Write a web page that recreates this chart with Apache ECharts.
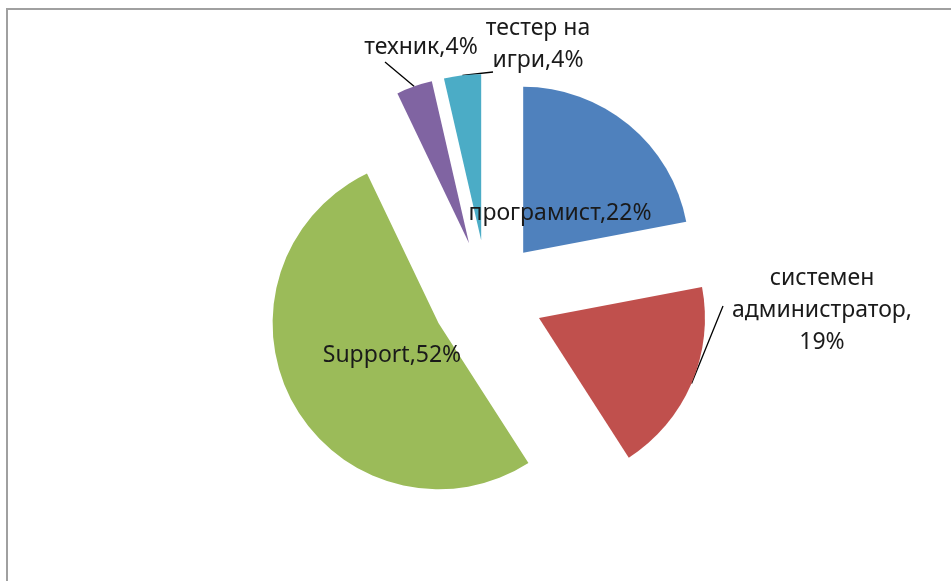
<!DOCTYPE html>
<html>
<head>
<meta charset="utf-8">
<script src="https://cdn.jsdelivr.net/npm/echarts@6/dist/echarts.min.js"></script>
<style>
  html, body { margin: 0; padding: 0; background: #fff; }
  #chart { width: 951px; height: 581px; }
  #frame { position: absolute; left: 6px; top: 8px; width: 960px; height: 590px;
           border-left: 2px solid #a0a0a0; border-top: 2px solid #a0a0a0; pointer-events: none; }
</style>
</head>
<body>
<div id="chart"></div>
<div id="frame"></div>
<script>
// data (slice sizes)
var categories = ['програмист', 'системен администратор', 'Support', 'техник', 'тестер на игри'];
var shares = [22, 18.9, 52, 3.5, 3.6];
var labelTexts = ['програмист,22%', 'системен\nадминистратор,\n19%', 'Support,52%', 'техник,4%', 'тестер на\nигри,4%'];
var colors = ['#4F81BD', '#C0504D', '#9BBB59', '#8064A2', '#4BACC6'];

// pie geometry (every slice is pulled out of the pie by OFFSET)
var CX = 487.5, CY = 296, R = 166, OFFSET = 56;

// data label centres and leader line ends, as Excel placed them
var labelSpots = [
  { x: 560, y: 213 },
  { x: 822, y: 310, tail: [723, 306] },
  { x: 392, y: 355 },
  { x: 421, y: 47, tail: [385, 62] },
  { x: 538, y: 44, tail: [493, 72] }
];

var total = shares.reduce(function (a, b) { return a + b; }, 0);
function midAngle(i) {
  var before = 0;
  for (var k = 0; k < i; k++) before += shares[k];
  return (before + shares[i] / 2) / total * Math.PI * 2; // clockwise from 12 o'clock
}
function sliceCenter(i) {
  var a = midAngle(i);
  return [CX + Math.sin(a) * OFFSET, CY - Math.cos(a) * OFFSET];
}
function arcMid(i) {
  var a = midAngle(i), c = sliceCenter(i);
  return [c[0] + Math.sin(a) * R, c[1] - Math.cos(a) * R];
}

// one pie per slice so each can sit at its own exploded centre
var series = categories.map(function (name, i) {
  return {
    type: 'pie',
    center: sliceCenter(i),
    radius: R,
    startAngle: 90,
    clockwise: true,
    silent: true,
    avoidLabelOverlap: false,
    emphasis: { disabled: true },
    itemStyle: { borderWidth: 0 },
    data: categories.map(function (n, j) {
      var mine = j === i;
      return {
        name: n,
        value: shares[j],
        itemStyle: { color: mine ? colors[j] : 'rgba(0,0,0,0)' },
        label: { show: mine, position: labelSpots[j].tail ? 'outside' : 'inside' },
        labelLine: { show: mine && !!labelSpots[j].tail }
      };
    }),
    label: {
      formatter: function (p) { return labelTexts[p.dataIndex]; },
      fontFamily: 'Noto Sans',
      fontSize: 23,
      lineHeight: 32,
      color: '#1a1a1a'
    },
    labelLine: {
      length: 10,
      length2: 10,
      lineStyle: { color: '#000', width: 1.3 }
    },
    labelLayout: function (params) {
      var j = params.dataIndex;
      var spot = labelSpots[j];
      var out = { x: spot.x, y: spot.y, align: 'center', verticalAlign: 'middle' };
      if (spot.tail) out.labelLinePoints = [arcMid(j), spot.tail];
      return out;
    }
  };
});

var chart = echarts.init(document.getElementById('chart'));
chart.setOption({
  animation: false,
  backgroundColor: '#fff',
  series: series
});
</script>
</body>
</html>
